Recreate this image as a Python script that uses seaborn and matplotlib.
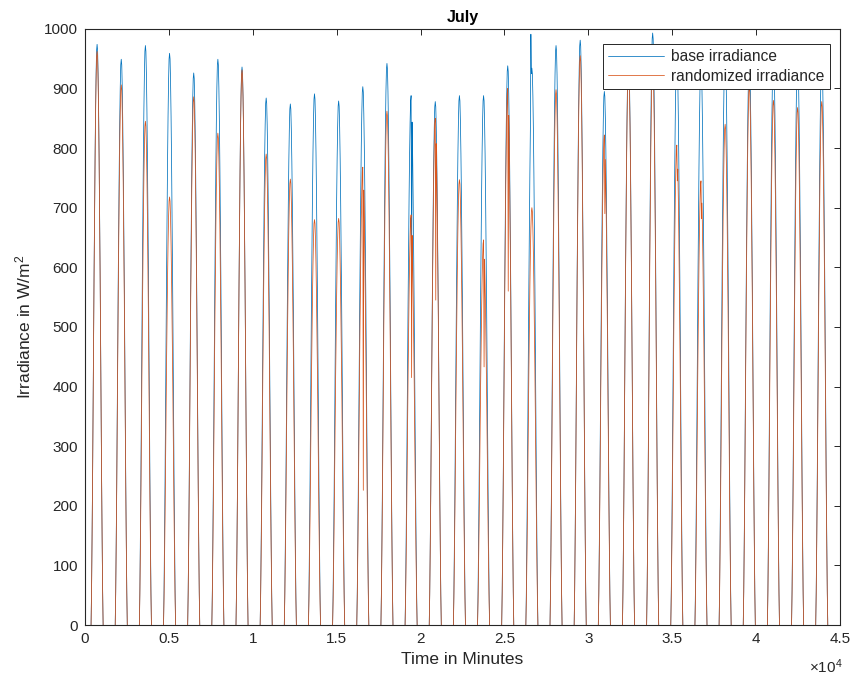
import numpy as np
import pandas as pd
import matplotlib
matplotlib.use('Agg')
import matplotlib.pyplot as plt
from matplotlib.lines import Line2D
import seaborn as sns

# ---------------------------------------------------------------
# data (July, one value per day)
# ---------------------------------------------------------------
days = list(range(1, 32))

# daily maximum of the base irradiance curve (W/m^2)
base_peak = [974, 949, 972, 959, 926, 949, 936, 884, 874, 891,
             879, 903, 942, 888, 878, 888, 888, 938, 934, 972,
             981, 895, 955, 993, 960, 945, 965, 950, 960, 955, 950]

# daily maximum of the randomized curve (W/m^2)
rand_peak = [962, 906, 845, 718, 886, 825, 931, 790, 748, 680,
             682, 768, 862, 688, 850, 747, 646, 900, 700, 898,
             955, 822, 940, 950, 805, 745, 840, 903, 880, 868, 878]

# shape of one day, fraction of the peak, every 30 min from 06:00 to 18:00
day_profile = [0.00, 0.06, 0.15, 0.25, 0.37, 0.49, 0.61, 0.71, 0.81, 0.89,
               0.95, 0.99, 1.00, 0.99, 0.95, 0.89, 0.81, 0.71, 0.61, 0.49,
               0.37, 0.25, 0.15, 0.06, 0.00]
slot_minutes = list(range(360, 1081, 30))

# cloud dips around midday
rand_dip_day = [12, 14, 15, 17, 18, 22, 25, 26]
rand_dip_val = [226, 415, 545, 433, 560, 690, 745, 682]
base_dip_day = [14]
base_dip_val = [560]
base_spike_day = [19]
base_spike_val = [991]

xtick_vals = [0, 5000, 10000, 15000, 20000, 25000, 30000, 35000, 40000, 45000]
xtick_labels = ['0', '0.5', '1', '1.5', '2', '2.5', '3', '3.5', '4', '4.5']
ytick_vals = [0, 100, 200, 300, 400, 500, 600, 700, 800, 900, 1000]

# ---------------------------------------------------------------
# build the series (one row per 30-min slot of daylight)
# ---------------------------------------------------------------
dip_slot = 13     # 12:30
spike_slot = 10   # 11:00

prof = np.array(day_profile)
base = np.outer(base_peak, prof)
rand = np.outer(rand_peak, prof)
for d, v in zip(rand_dip_day, rand_dip_val):
    rand[d - 1, dip_slot] = v
for d, v in zip(base_dip_day, base_dip_val):
    base[d - 1, dip_slot] = v
for d, v in zip(base_spike_day, base_spike_val):
    base[d - 1, spike_slot] = v

t = (np.array(days)[:, None] - 1) * 1440 + np.array(slot_minutes)[None, :]
day_id = np.repeat(days, len(slot_minutes))
df = pd.DataFrame({'t': t.ravel(), 'day': day_id,
                   'base': base.ravel(), 'rand': rand.ravel()})

# ---------------------------------------------------------------
# plot
# ---------------------------------------------------------------
sns.set_theme(style='white')
plt.rcParams['font.family'] = ['Liberation Sans', 'DejaVu Sans']
plt.rcParams['mathtext.default'] = 'regular'

dark = '#262626'
c_base = '#0072BD'
c_rand = '#D95319'
lw = 0.55

fig, ax = plt.subplots(figsize=(8.57, 6.87), dpi=100)
fig.subplots_adjust(left=0.0992, right=0.980, bottom=0.0902, top=0.958)

# one line per day, nights stay at zero under the axis
sns.lineplot(data=df, x='t', y='base', units='day', estimator=None, sort=False,
             ax=ax, color=c_base, lw=lw)
sns.lineplot(data=df, x='t', y='rand', units='day', estimator=None, sort=False,
             ax=ax, color=c_rand, lw=lw)

ax.set_xlim(0, 45000)
ax.set_ylim(0, 1000)
ax.set_xticks(xtick_vals)
ax.set_xticklabels(xtick_labels)
ax.set_yticks(ytick_vals)
ax.tick_params(direction='in', length=4.5, width=0.7, colors=dark,
               labelsize=11, top=True, right=True, pad=5)
for s in ax.spines.values():
    s.set_color(dark)
    s.set_linewidth(0.8)
    s.set_zorder(5)

ax.set_xlabel('Time in Minutes', fontsize=12.5, color=dark, labelpad=4)
ax.set_ylabel('Irradiance in W/m$^2$', fontsize=12.5, color=dark, labelpad=8)
ax.set_title('July', fontsize=11.5, fontweight='bold', color='black', pad=5)
ax.text(1.004, -0.055, r'$\times10^4$', transform=ax.transAxes,
        ha='right', va='top', fontsize=11, color=dark)

handles = [Line2D([], [], color=c_base, lw=lw), Line2D([], [], color=c_rand, lw=lw)]
leg = ax.legend(handles, ['base irradiance', 'randomized irradiance'],
                loc='upper right', bbox_to_anchor=(0.987, 0.975), borderaxespad=0,
                fontsize=11.2, fancybox=False, framealpha=1, edgecolor=dark,
                handlelength=3.6, handletextpad=0.45, labelspacing=0.28,
                borderpad=0.35)
leg.get_frame().set_linewidth(0.7)
leg.set_zorder(6)

plt.savefig('out.png', dpi=100)
